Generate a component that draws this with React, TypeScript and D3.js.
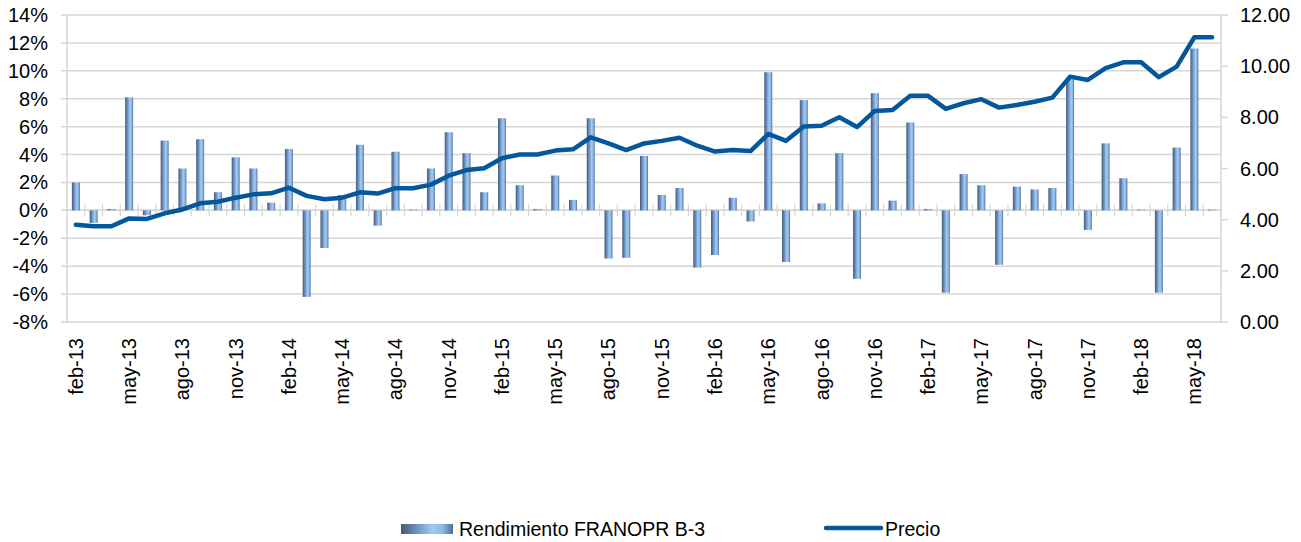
import React from "react";
import * as d3 from "d3";

const categories = [
  "feb-13","mar-13","abr-13","may-13","jun-13","jul-13","ago-13","sep-13","oct-13","nov-13","dic-13",
  "ene-14","feb-14","mar-14","abr-14","may-14","jun-14","jul-14","ago-14","sep-14","oct-14","nov-14","dic-14",
  "ene-15","feb-15","mar-15","abr-15","may-15","jun-15","jul-15","ago-15","sep-15","oct-15","nov-15","dic-15",
  "ene-16","feb-16","mar-16","abr-16","may-16","jun-16","jul-16","ago-16","sep-16","oct-16","nov-16","dic-16",
  "ene-17","feb-17","mar-17","abr-17","may-17","jun-17","jul-17","ago-17","sep-17","oct-17","nov-17","dic-17",
  "ene-18","feb-18","mar-18","abr-18","may-18","jun-18"
];

const rendimiento = [
  2.0, -0.9, 0.1, 8.1, -0.35, 5.0, 3.0, 5.1, 1.3, 3.8, 3.0,
  0.55, 4.4, -6.2, -2.7, 1.1, 4.7, -1.1, 4.2, 0.05, 3.0, 5.6, 4.1,
  1.3, 6.6, 1.8, 0.1, 2.5, 0.75, 6.6, -3.45, -3.4, 3.9, 1.1, 1.6,
  -4.1, -3.2, 0.9, -0.8, 9.9, -3.7, 7.9, 0.5, 4.1, -4.9, 8.4, 0.7,
  6.3, 0.1, -5.9, 2.6, 1.8, -3.9, 1.7, 1.5, 1.6, 9.4, -1.4, 4.8,
  2.3, 0.05, -5.9, 4.5, 11.6, 0.05
];

const precio = [
  3.80, 3.74, 3.74, 4.05, 4.03, 4.25, 4.40, 4.64, 4.70, 4.86, 4.99,
  5.03, 5.25, 4.93, 4.80, 4.86, 5.07, 5.02, 5.23, 5.23, 5.37, 5.72, 5.94,
  6.01, 6.40, 6.55, 6.55, 6.70, 6.75, 7.22, 6.98, 6.72, 6.98, 7.08, 7.20,
  6.89, 6.66, 6.72, 6.68, 7.35, 7.08, 7.64, 7.67, 8.00, 7.62, 8.25, 8.29,
  8.84, 8.84, 8.33, 8.55, 8.71, 8.38, 8.48, 8.61, 8.77, 9.59, 9.46, 9.92,
  10.15, 10.15, 9.57, 9.98, 11.13, 11.13
];

const leftTicks = [-8, -6, -4, -2, 0, 2, 4, 6, 8, 10, 12, 14];
const rightTicks = [0, 2, 4, 6, 8, 10, 12];

const W = 1301, H = 542;
const L = 67, R = 1221, T = 15, B = 322;
const FONT = "'Liberation Sans', Arial, sans-serif";
const LINE = "#04579b";
const GRID = "#d6d6d6";

export default function App() {
  const x = d3.scaleBand<string>().domain(categories).range([L, R]).paddingInner(0.55).paddingOuter(0.275);
  const yL = d3.scaleLinear().domain([-8, 14]).range([B, T]);
  const yR = d3.scaleLinear().domain([0, 12]).range([B, T]);
  const step = x.step();
  const bw = x.bandwidth();
  const cx = (c: string) => (x(c) as number) + bw / 2;

  const line = d3.line<number>()
    .x((_, i) => cx(categories[i]))
    .y((d) => yR(d));

  const y0 = yL(0);

  return (
    <svg width={W} height={H} style={{ display: "block" }} fontFamily={FONT}>
      <style>{`body{margin:0}`}</style>
      <defs>
        <linearGradient id="barGrad" x1="0" x2="1" y1="0" y2="0">
          <stop offset="0" stopColor="#46597a" />
          <stop offset="0.3" stopColor="#6e90bd" />
          <stop offset="0.6" stopColor="#9dcaf6" />
          <stop offset="0.8" stopColor="#8db9e6" />
          <stop offset="1" stopColor="#526c92" />
        </linearGradient>
      </defs>
      <rect x={0} y={0} width={W} height={H} fill="#fff" />
      {/* gridlines */}
      {leftTicks.map((t) => (
        <line key={"g" + t} x1={L - 6} x2={R} y1={yL(t)} y2={yL(t)} stroke={GRID} strokeWidth={1.5} />
      ))}
      {/* axes lines */}
      <line x1={L} x2={L} y1={T} y2={B} stroke={GRID} strokeWidth={1.5} />
      <line x1={R} x2={R} y1={T} y2={B} stroke={GRID} strokeWidth={1.5} />
      {rightTicks.map((t) => (
        <line key={"rt" + t} x1={R} x2={R + 7} y1={yR(t)} y2={yR(t)} stroke={GRID} strokeWidth={1.5} />
      ))}
      {/* category axis at zero */}
      <line x1={L} x2={R} y1={y0} y2={y0} stroke={GRID} strokeWidth={1.5} />
      {categories.map((c, i) => (
        <line key={"ct" + i} x1={L + step * (i + 1)} x2={L + step * (i + 1)} y1={y0 - 6} y2={y0 + 6} stroke={GRID} strokeWidth={1.2} />
      ))}
      {/* bars */}
      {rendimiento.map((v, i) => (
        <rect key={"b" + i} x={x(categories[i])} width={bw}
          y={Math.min(yL(v), y0)} height={Math.abs(yL(v) - y0)} fill="url(#barGrad)" />
      ))}
      {/* price line */}
      <path d={line(precio) || ""} fill="none" stroke={LINE} strokeWidth={4.5} strokeLinejoin="round" strokeLinecap="round" />
      {/* left labels */}
      {leftTicks.map((t) => (
        <text key={"ll" + t} x={48} y={yL(t)} dy="0.35em" textAnchor="end" fontSize={20} fill="#000">{t + "%"}</text>
      ))}
      {/* right labels */}
      {rightTicks.map((t) => (
        <text key={"rl" + t} x={1240} y={yR(t)} dy="0.35em" textAnchor="start" fontSize={20} fill="#000">{t.toFixed(2)}</text>
      ))}
      {/* x labels */}
      {categories.map((c, i) => i % 3 === 0 ? (
        <text key={"xl" + i} transform={`translate(${cx(c)},338) rotate(-90)`} dy="0.35em" textAnchor="end" fontSize={20} fill="#000">{c}</text>
      ) : null)}
      {/* legend */}
      <rect x={401} y={524} width={52} height={10} fill="url(#barGrad)" />
      <text x={459} y={536} fontSize={19.5} fill="#000">Rendimiento FRANOPR B-3</text>
      <line x1={826} x2={881} y1={528} y2={528} stroke={LINE} strokeWidth={4.5} strokeLinecap="round" />
      <text x={885} y={536} fontSize={19.5} fill="#000">Precio</text>
    </svg>
  );
}
